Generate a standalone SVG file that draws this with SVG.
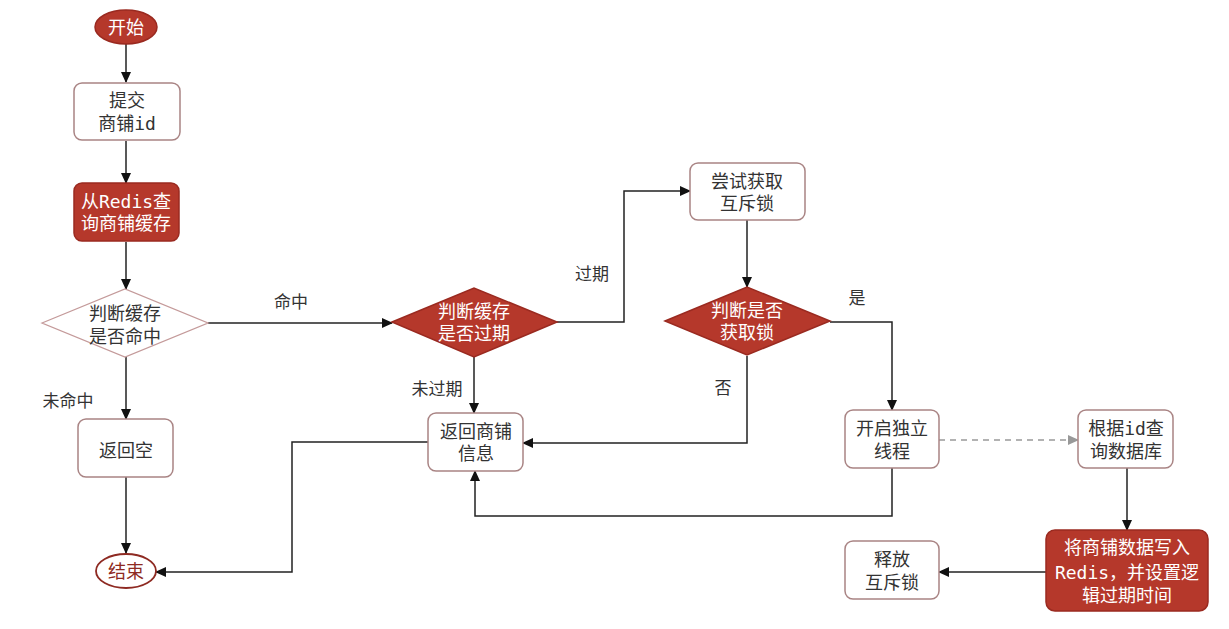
<svg xmlns="http://www.w3.org/2000/svg" width="1229" height="629" viewBox="0 0 1229 629">
<defs>
<marker id="arr" markerUnits="userSpaceOnUse" markerWidth="11" markerHeight="10" refX="10" refY="5" orient="auto">
<path d="M0,0 L11,5 L0,10 z" fill="#111"/>
</marker>
<marker id="arrg" markerUnits="userSpaceOnUse" markerWidth="11" markerHeight="10" refX="10" refY="5" orient="auto">
<path d="M0,0 L11,5 L0,10 z" fill="#999"/>
</marker>
<style>
text{font-family:"DejaVu Sans Mono","Noto Sans CJK SC",monospace;font-size:18px;text-anchor:middle;dominant-baseline:central;fill:#333}
.box{fill:#fff;stroke:#a98484;stroke-width:1.5}
.red{fill:#b5382b;stroke:#9a2a20;stroke-width:1.5}
.wt{fill:#fff}
.ln{fill:none;stroke:#222;stroke-width:1.5}
.lbl{fill:#333;font-size:17px}
</style>
</defs>
<rect width="1229" height="629" fill="#fff"/>
<g id="connectors">
<path class="ln" d="M126,44 V82" marker-end="url(#arr)"/>
<path class="ln" d="M126,141 V183" marker-end="url(#arr)"/>
<path class="ln" d="M126,242 V289" marker-end="url(#arr)"/>
<path class="ln" d="M126,357 V419" marker-end="url(#arr)"/>
<path class="ln" d="M126,477 V553" marker-end="url(#arr)"/>
<path class="ln" d="M208,323 H392" marker-end="url(#arr)"/>
<path class="ln" d="M557,322 H624 V191 H690" marker-end="url(#arr)"/>
<path class="ln" d="M747,220 V287" marker-end="url(#arr)"/>
<path class="ln" d="M830,322 H892 V410" marker-end="url(#arr)"/>
<path class="ln" d="M747,356 V443 H523" marker-end="url(#arr)"/>
<path class="ln" d="M474,357 V413" marker-end="url(#arr)"/>
<path class="ln" d="M892,468 V516 H475 V471" marker-end="url(#arr)"/>
<path d="M939,440 H1078" fill="none" stroke="#999" stroke-width="1.5" stroke-dasharray="6,5" marker-end="url(#arrg)"/>
<path class="ln" d="M1127,468 V530" marker-end="url(#arr)"/>
<path class="ln" d="M1046,572 H939" marker-end="url(#arr)"/>
<path class="ln" d="M428,442 H292 V572 H156" marker-end="url(#arr)"/>
<text class="lbl" x="291" y="302">命中</text>
<text class="lbl" x="68" y="401">未命中</text>
<text class="lbl" x="592" y="274">过期</text>
<text class="lbl" x="437" y="389">未过期</text>
<text class="lbl" x="857" y="298">是</text>
<text class="lbl" x="723" y="388">否</text>
</g>
<g id="start">
<ellipse class="red" cx="126" cy="27" rx="31" ry="17"/>
<text class="wt" x="126" y="27">开始</text>
</g>
<g id="submit">
<rect class="box" x="74" y="83" width="106" height="57" rx="8"/>
<text x="127" y="100">提交</text>
<text x="127" y="123">商铺id</text>
</g>
<g id="queryRedis">
<rect class="red" x="74" y="183" width="105" height="58" rx="8"/>
<text class="wt" x="126" y="201">从Redis查</text>
<text class="wt" x="126" y="223">询商铺缓存</text>
</g>
<g id="hitCheck">
<path d="M42,323 L125,289 L208,323 L125,357 z" fill="#fff" stroke="#c49a9a" stroke-width="1.3"/>
<text x="125" y="313">判断缓存</text>
<text x="125" y="336">是否命中</text>
</g>
<g id="returnNull">
<rect class="box" x="78" y="419" width="95" height="58" rx="8"/>
<text x="126" y="450">返回空</text>
</g>
<g id="end">
<ellipse cx="126" cy="571" rx="30" ry="17" fill="#fff" stroke="#8e2a22" stroke-width="1.8"/>
<text x="126" y="571" style="fill:#8e2a22">结束</text>
</g>
<g id="expireCheck">
<path class="red" d="M392,322 L474,288 L557,322 L474,357 z"/>
<text class="wt" x="474" y="311">判断缓存</text>
<text class="wt" x="474" y="333">是否过期</text>
</g>
<g id="returnShop">
<rect class="box" x="428" y="413" width="95" height="58" rx="8"/>
<text x="476" y="431">返回商铺</text>
<text x="476" y="453">信息</text>
</g>
<g id="tryLock">
<rect class="box" x="690" y="163" width="115" height="57" rx="8"/>
<text x="747" y="181">尝试获取</text>
<text x="747" y="203">互斥锁</text>
</g>
<g id="lockCheck">
<path class="red" d="M665,321 L747,287 L830,321 L747,355 z"/>
<text class="wt" x="747" y="310">判断是否</text>
<text class="wt" x="747" y="332">获取锁</text>
</g>
<g id="newThread">
<rect class="box" x="845" y="410" width="94" height="58" rx="8"/>
<text x="892" y="428">开启独立</text>
<text x="892" y="451">线程</text>
</g>
<g id="queryDb">
<rect class="box" x="1078" y="410" width="95" height="58" rx="8"/>
<text x="1126" y="428">根据id查</text>
<text x="1126" y="451">询数据库</text>
</g>
<g id="writeRedis">
<rect class="red" x="1046" y="530" width="162" height="81" rx="9"/>
<text class="wt" x="1127" y="547">将商铺数据写入</text>
<text class="wt" x="1127" y="572">Redis，并设置逻</text>
<text class="wt" x="1127" y="595">辑过期时间</text>
</g>
<g id="releaseLock">
<rect class="box" x="845" y="541" width="94" height="58" rx="8"/>
<text x="892" y="559">释放</text>
<text x="892" y="582">互斥锁</text>
</g>
</svg>
